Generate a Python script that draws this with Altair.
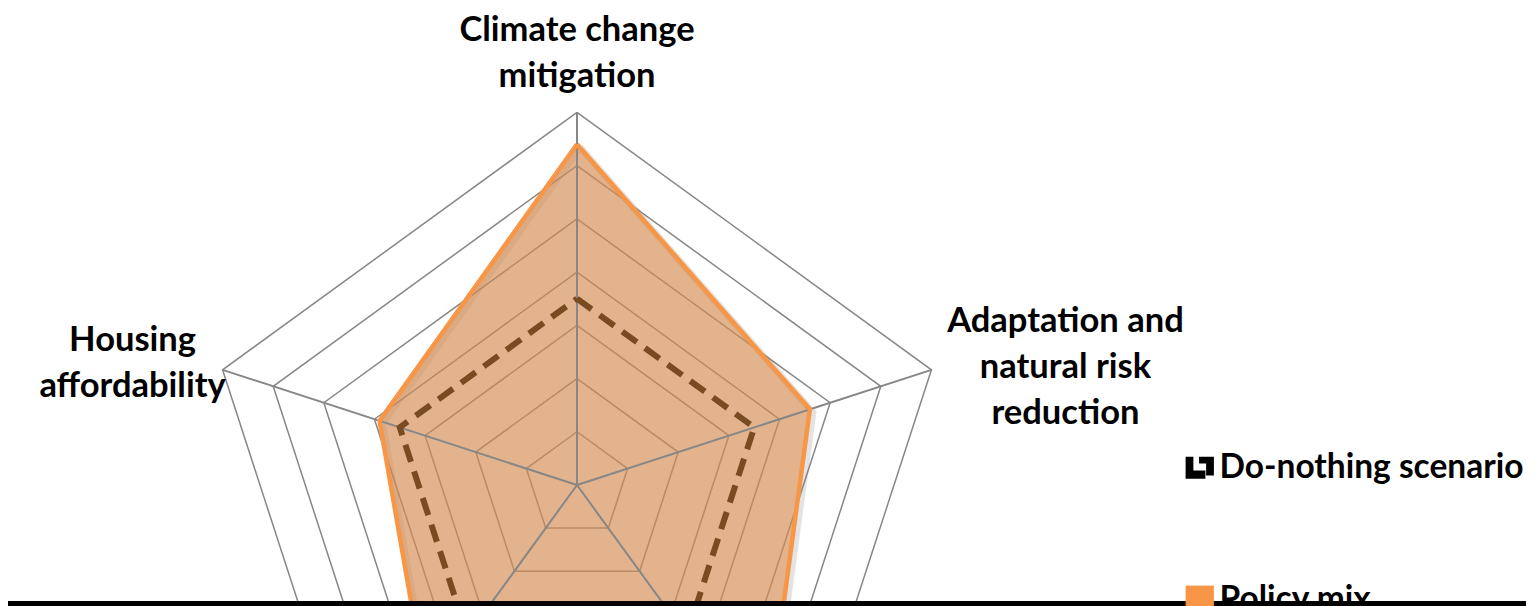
import altair as alt
import pandas as pd

# ---------------- data ----------------
categories = [
    "Climate change mitigation",
    "Adaptation and natural risk reduction",
    "Axis 3",
    "Axis 4",
    "Housing affordability",
]
label_text = [
    "Climate change\nmitigation",
    "Adaptation and\nnatural risk\nreduction",
    "",
    "",
    "Housing\naffordability",
]
series = ["Do-nothing scenario", "Policy mix"]
do_nothing = [3.5, 3.5, 3.5, 3.5, 3.5]
policy_mix = [6.4, 4.6, 6.0, 4.8, 3.9]
grid_levels = [1, 2, 3, 4, 5, 6, 7]
max_level = 7

# ---------------- layout ----------------
W, H = 1518, 598
CX, CY = 569, 477          # centre of the radar in plot pixels
U = 53.24                  # pixels per unit
xdom = [-CX / U, (W - CX) / U]
ydom = [(CY - H) / U, CY / U]
xs = alt.Scale(domain=xdom, range=[0, W], nice=False, zero=False)
ys = alt.Scale(domain=ydom, range=[H, 0], nice=False, zero=False)
X = alt.X("px:Q", scale=xs, axis=None)
Y = alt.Y("py:Q", scale=ys, axis=None)

n = len(categories)
FONT = "Lato"
FS = 34.5
LFS = 33.5

# series polygons (closed)
rows = []
for s, vals in zip(series, [do_nothing, policy_mix]):
    for k in range(n + 1):
        i = k % n
        rows.append({"series": s, "idx": i, "ord": k, "value": vals[i]})
poly = pd.DataFrame(rows)

ring_rows = []
for lv in grid_levels:
    for k in range(n + 1):
        ring_rows.append({"level": lv, "idx": k % n, "ord": k, "value": lv})
rings = pd.DataFrame(ring_rows)

spokes = pd.DataFrame({"idx": list(range(n)), "value": [max_level] * n})
labels = pd.DataFrame({"idx": list(range(n)), "label": label_text, "value": [max_level] * n})
legend_df = pd.DataFrame({"series": series, "value": [0, 0], "idx": [0, 0]})

def polar(ch):
    return ch.transform_calculate(
        ang="datum.idx * 2 * PI / %d" % n
    ).transform_calculate(
        px="datum.value * sin(datum.ang)",
        py="datum.value * cos(datum.ang)",
    )

GRID = "#878787"

rings_outer = polar(alt.Chart(rings)).mark_line(
    stroke=GRID, strokeWidth=1.5
).encode(x=X, y=Y, detail="level:N", order="ord:Q")

spoke_layer = polar(alt.Chart(spokes)).transform_calculate(
    ox="0", oy="0"
).mark_rule(stroke=GRID, strokeWidth=2).encode(
    x=alt.X("ox:Q", scale=xs, axis=None),
    y=alt.Y("oy:Q", scale=ys, axis=None),
    x2="px:Q",
    y2="py:Q",
)

pm = alt.Chart(poly).transform_filter(alt.datum.series == "Policy mix")
dn = alt.Chart(poly).transform_filter(alt.datum.series == "Do-nothing scenario")

shadow = polar(pm).mark_line(
    stroke="#7f7f7f", strokeWidth=7, opacity=0.22, xOffset=3, yOffset=3
).encode(x=X, y=Y, order="ord:Q")

fill = polar(pm).mark_line(
    fill="#D38C50", fillOpacity=0.66, strokeWidth=0
).encode(x=X, y=Y, order="ord:Q")

pm_line = polar(pm).mark_line(
    stroke="#F79646", strokeWidth=4.5, strokeJoin="miter"
).encode(x=X, y=Y, order="ord:Q")

dn_line = polar(dn).mark_line(
    stroke="#794B20", strokeWidth=6, strokeDash=[18, 10], strokeJoin="miter"
).encode(x=X, y=Y, order="ord:Q")

def label_layer(i, dx, dy):
    return polar(alt.Chart(labels)).transform_filter(
        alt.datum.idx == i
    ).mark_text(
        font=FONT, fontSize=FS, fontWeight="bold", color="black",
        align="center", baseline="middle", lineBreak="\n", lineHeight=46,
        dx=dx, dy=dy,
    ).encode(x=X, y=Y, text="label:N")

lab0 = label_layer(0, 0, -81)
lab1 = label_layer(1, 134, -48)
lab4 = label_layer(4, -90, -29)

icon_path = ("M-1,-0.78 H-0.45 V0.2 H0.4 V0.78 H-1 Z "
             "M-0.05,-0.78 H1 V0.55 H0.45 V-0.3 H-0.05 Z")

legend_layer = polar(alt.Chart(legend_df)).mark_point(
    filled=True, opacity=0, size=1
).encode(
    x=X, y=Y,
    color=alt.Color("series:N", scale=alt.Scale(domain=series, range=["#000000", "#F79646"]),
                    legend=alt.Legend(title=None)),
    shape=alt.Shape("series:N", scale=alt.Scale(domain=series, range=[icon_path, "square"]),
                    legend=alt.Legend(title=None)),
)

# dark strip along the bottom edge of the reference picture
strip = alt.Chart(pd.DataFrame({"k": [0]})).mark_rect(color="#000000").encode(
    x=alt.value(0), x2=alt.value(W), y=alt.value(H - 5), y2=alt.value(H)
)

chart = alt.layer(
    rings_outer, shadow, fill, spoke_layer, pm_line, dn_line,
    lab0, lab1, lab4, legend_layer, strip,
).properties(
    width=W, height=H, padding=0, autosize=alt.AutoSizeParams(type="none"),
).configure_view(stroke=None).configure_legend(
    orient="none", legendX=1175, legendY=443, padding=0,
    labelFont=FONT, labelFontSize=LFS, labelFontWeight="bold", labelColor="black",
    labelLimit=600, symbolSize=800, symbolOpacity=1, symbolStrokeWidth=0,
    rowPadding=97, labelOffset=3,
)

chart.save("out.html", embed_options={"renderer": "svg", "actions": False})
